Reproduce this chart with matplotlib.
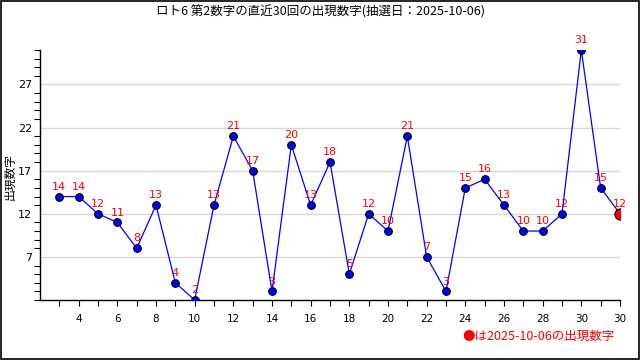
import numpy as np
from matplotlib import pyplot as plt
from matplotlib.patches import Rectangle

plt.rcParams['font.family'] = ['Noto Sans CJK JP', 'DejaVu Sans']

# 直近30回の第2数字
posicoes = list(range(3, 33))
valores = [14, 14, 12, 11, 8, 13, 4, 2, 13, 21, 17, 3, 20, 13, 18,
           5, 12, 10, 21, 7, 3, 15, 16, 13, 10, 10, 12, 31, 15, 12]
xticks = [4, 6, 8, 10, 12, 14, 16, 18, 20, 22, 24, 26, 28, 30, 32]
xticklabels = ["4", "6", "8", "10", "12", "14", "16", "18", "20",
               "22", "24", "26", "28", "30", "30"]
yticks = [7, 12, 17, 22, 27]

titulo = "ロト6 第2数字の直近30回の出現数字(抽選日：2025-10-06)"
nota = "●は2025-10-06の出現数字"

fig = plt.figure(figsize=(6.4, 3.6), dpi=100)
ax = fig.add_axes([40 / 640, 60 / 360, 580 / 640, 250 / 360])

ax.plot(posicoes, valores, "-", color="blue", lw=0.9, zorder=3)
ax.plot(posicoes[:-1], valores[:-1], "o", color="blue", mec="black",
        mew=0.8, ms=5.5, zorder=4)
ax.plot(posicoes[-1], valores[-1], "o", color="red", mec="black",
        mew=0.8, ms=8, zorder=4)

for x, v in zip(posicoes, valores):
    ax.annotate(str(v), (x, v), xytext=(0, 3.5), textcoords="offset points",
                ha="center", va="bottom", color="red", fontsize=8,
                family="DejaVu Sans", zorder=5)

ax.set_xlim(2, 32)
ax.set_ylim(2, 31)
ax.set_xticks(xticks)
ax.set_xticklabels(xticklabels, family="DejaVu Sans", fontsize=7.5)
ax.set_xticks(posicoes, minor=True)
ax.set_yticks(yticks)
ax.set_yticklabels([str(t) for t in yticks], family="DejaVu Sans", fontsize=8)
ax.set_yticks(range(2, 32), minor=True)
ax.tick_params(axis="x", which="both", direction="out", length=4, width=0.8, pad=6)
ax.tick_params(axis="y", which="major", length=0, pad=5.5)
ax.tick_params(axis="y", which="minor", direction="out", length=4, width=0.8)
ax.grid(axis="y", color="#d9d9d9", lw=1)
ax.set_axisbelow(True)
for s in ["top", "right"]:
    ax.spines[s].set_visible(False)
ax.spines["left"].set_linewidth(1)
ax.spines["bottom"].set_linewidth(1)

fig.text(10 / 640, 1 - 176 / 360, "出現数字", rotation=90, ha="center",
         va="center", fontsize=8.5)
fig.text(0.5, 1 - 12 / 360, titulo, ha="center", va="center", fontsize=9)
fig.text(615 / 640, 1 - 336 / 360, nota, ha="right", va="center",
         color="red", fontsize=9)

fig.patches.append(Rectangle((0.001, 0.002), 0.997, 0.995, transform=fig.transFigure,
                             fill=False, edgecolor="black", lw=1.2))

fig.savefig("out.png", dpi=100)
